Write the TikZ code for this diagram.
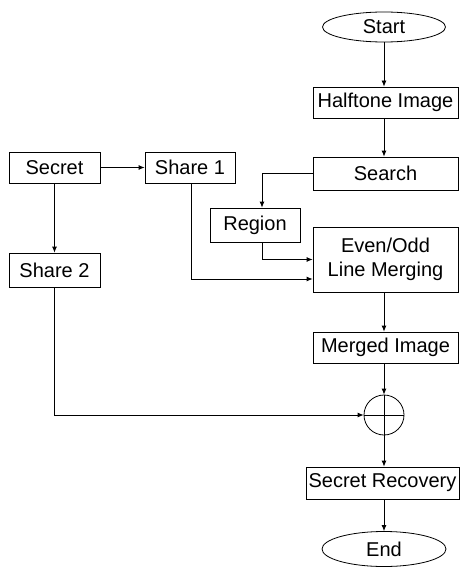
\documentclass[tikz,border=0pt]{standalone}
\usepackage{fontspec}
\setmainfont{Liberation Sans}
\usetikzlibrary{arrows.meta,shapes.geometric,calc}
\begin{document}
\begin{tikzpicture}[x=1pt,y=-1pt,
  every node/.style={font=\fontsize{20}{24}\selectfont, inner sep=0pt},
  box/.style={draw, line width=0.8pt, rectangle, align=center},
  oval/.style={draw, line width=0.8pt, ellipse},
  arr/.style={line width=0.8pt, -{Latex[length=6pt,width=5pt]}},
  ln/.style={line width=0.8pt}]
\useasboundingbox (0,0) rectangle (460,567);
\node[oval, minimum width=123pt, minimum height=30pt] (start) at (384,27) {Start};
\node[box, minimum width=145pt, minimum height=31pt] (half) at (385.5,102.5) {Halftone Image};
\node[box, minimum width=145pt, minimum height=33pt] (search) at (385.5,173.5) {Search};
\node[box, minimum width=91pt, minimum height=31pt] (secret) at (54.5,167.5) {Secret};
\node[box, minimum width=90pt, minimum height=31pt] (share1) at (190,167.5) {Share 1};
\node[box, minimum width=91pt, minimum height=34pt] (share2) at (54.5,270) {Share 2};
\node[box, minimum width=90pt, minimum height=34pt] (region) at (255,225) {Region};
\node[box, minimum width=145pt, minimum height=65pt] (merge) at (385.5,259.5) {Even/Odd\\Line Merging};
\node[box, minimum width=145pt, minimum height=31pt] (merged) at (385.5,347.5) {Merged Image};
\node[draw, line width=0.8pt, circle, minimum size=40pt] (xor) at (384,415) {};
\node[box, minimum width=153pt, minimum height=32pt] (recov) at (382.5,483) {Secret Recovery};
\node[oval, minimum width=124pt, minimum height=35pt] (end) at (384,549) {End};
% plus inside circle
\draw[ln] (xor.north) -- (xor.south);
\draw[ln] (xor.west) -- (xor.east);
% connectors
\draw[arr] (start.south) -- (start.south |- half.north);
\draw[arr] (start.south |- half.south) -- (start.south |- search.north);
\draw[arr] (search.west) -| ([xshift=7pt]region.north);
\draw[arr] ([xshift=7pt]region.south) |- (merge.west);
\draw[arr] ([xshift=1pt]share1.south) |- ([yshift=-19.5pt]merge.west);
\draw[arr] (secret.east) -- (share1.west);
\draw[arr] (secret.south) -- (share2.north);
\draw[arr] (xor.north |- merge.south) -- (xor.north |- merged.north);
\draw[arr] (xor.north |- merged.south) -- (xor.north);
\draw[arr] (share2.south) |- (xor.west);
\draw[arr] (xor.south) -- (xor.south |- recov.north);
\draw[arr] (xor.south |- recov.south) -- (end.north);
\end{tikzpicture}
\end{document}
